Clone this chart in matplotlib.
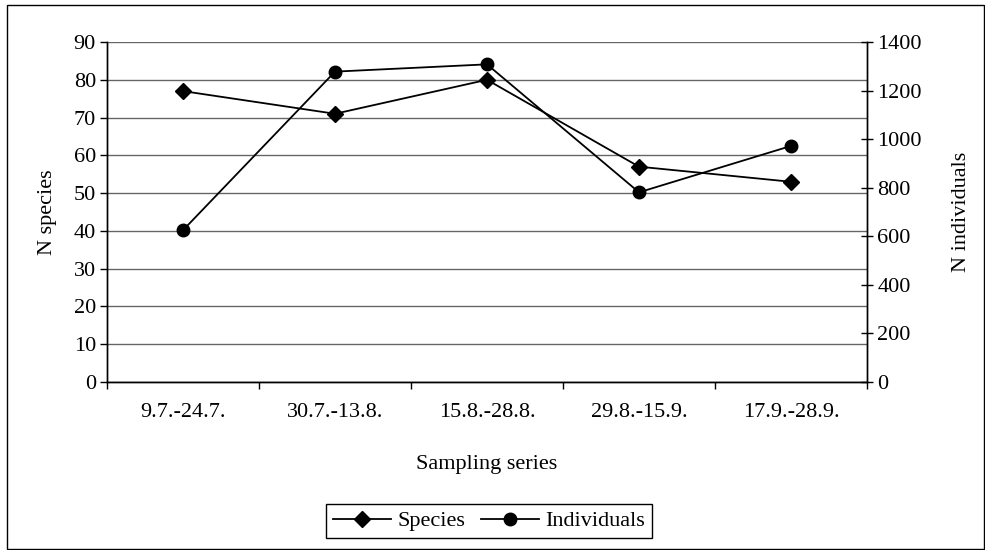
import matplotlib.pyplot as plt
import matplotlib.patches as patches

series = ['9.7.-24.7.', '30.7.-13.8.', '15.8.-28.8.', '29.8.-15.9.', '17.9.-28.9.']
species = [77, 71, 80, 57, 53]
individuals = [625, 1278, 1308, 781, 972]

plt.rcParams['font.family'] = ['Liberation Serif', 'DejaVu Serif']
plt.rcParams['font.size'] = 16

fig = plt.figure(figsize=(9.85, 5.5), dpi=100)
ax = fig.add_axes([107 / 985, 1 - 382 / 550, 760 / 985, 340 / 550])
ax2 = ax.twinx()

x = [i + 0.5 for i in range(len(series))]

ax.plot(x, species, color='black', lw=1.3, marker='D', markersize=8, label='Species')
ax2.plot(x, individuals, color='black', lw=1.3, marker='o', markersize=9, label='Individuals')

ax.set_xlim(0, len(series))
ax.set_ylim(0, 90)
ax.set_yticks(range(0, 91, 10))
ax2.set_ylim(0, 1400)
ax2.set_yticks(range(0, 1401, 200))

ax.set_xticks(x)
ax.set_xticklabels(series)
ax.set_xticks(range(0, len(series) + 1), minor=True)
ax.tick_params(axis='x', which='major', length=0, pad=15)
ax.tick_params(axis='x', which='minor', length=5, width=1, direction='out')
ax.tick_params(axis='y', length=5, width=1, direction='out', pad=3)
ax2.tick_params(axis='y', length=9, width=1, direction='inout', pad=3)

ax.yaxis.grid(True, color='#666666', lw=1)
ax.set_axisbelow(True)

for a in (ax, ax2):
    a.spines['top'].set_visible(False)
    for s in ('left', 'right', 'bottom'):
        a.spines[s].set_linewidth(1)

ax.set_xlabel('Sampling series', labelpad=24)
ax.set_ylabel('N species', labelpad=12)
ax2.set_ylabel('N individuals', labelpad=22)

h1, l1 = ax.get_legend_handles_labels()
h2, l2 = ax2.get_legend_handles_labels()
fig.legend(h1 + h2, l1 + l2, loc='center', bbox_to_anchor=(489 / 985, 1 - 521 / 550),
           ncol=2, frameon=True, fancybox=False, edgecolor='black', framealpha=1,
           handlelength=2.6, handletextpad=0.3, columnspacing=0.7, borderpad=0.3)

fig.patches.append(patches.Rectangle((7 / 985, 1 / 550), 977 / 985, 544 / 550,
                                     transform=fig.transFigure, fill=False,
                                     edgecolor='black', lw=1))

fig.savefig('out.png', dpi=100)
